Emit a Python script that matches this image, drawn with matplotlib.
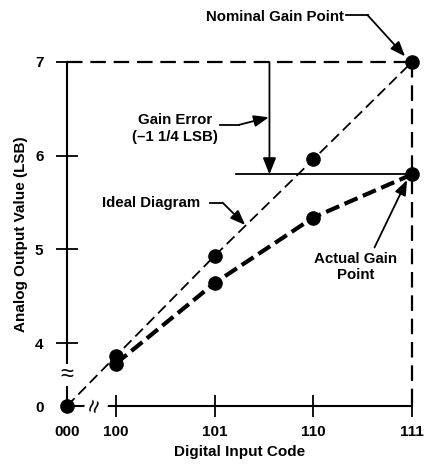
import matplotlib.pyplot as plt
import numpy as np

plt.rcParams['font.family'] = ['Liberation Sans', 'DejaVu Sans']
plt.rcParams['font.weight'] = 'bold'

# digital input codes and where they sit on the (broken) x axis
codes = ['000', '100', '101', '110', '111']
code_pos = [3.505, 4, 5, 6, 7]

# output values in LSB (axis broken between 0 and 4)
y_ticks = [0, 4, 5, 6, 7]
y_zero_pos = 3.328

ideal = [0, 3.86, 4.93, 5.96, 7.0]
actual = [0, 3.78, 4.64, 5.34, 5.80]


def ypos(v):
    return v if v >= 3 else y_zero_pos


fig = plt.figure(figsize=(4.25, 4.66), dpi=100)
ax = fig.add_axes([67 / 425, 60 / 466, 345 / 425, 344 / 466])
ax.set_xlim(code_pos[0], code_pos[-1])
ax.set_ylim(y_zero_pos, 7)

for s in ['top', 'right']:
    ax.spines[s].set_visible(False)
for s in ['left', 'bottom']:
    ax.spines[s].set_linewidth(1.5)

ax.set_xticks(code_pos)
ax.set_xticklabels(codes, fontsize=11, fontweight='bold')
ax.set_yticks([ypos(v) for v in y_ticks])
ax.set_yticklabels([str(v) for v in y_ticks], fontsize=11, fontweight='bold')
ax.tick_params(direction='inout', length=16, width=1.3)
ax.tick_params(axis='x', pad=6)
ax.tick_params(axis='y', pad=9)
ax.xaxis.get_major_ticks()[0].tick1line.set_visible(False)
ax.yaxis.get_major_ticks()[0].tick1line.set_visible(False)

ax.set_xlabel('Digital Input Code', fontsize=11, fontweight='bold', labelpad=4)
ax.set_ylabel('Analog Output Value (LSB)', fontsize=11, fontweight='bold', labelpad=5)

# nominal frame lines
ax.plot([code_pos[0], code_pos[-1]], [7, 7], color='black', lw=1.6,
        dashes=(7, 3.5), clip_on=False)
ax.plot([code_pos[-1], code_pos[-1]], [7, y_zero_pos], color='black', lw=1.6,
        dashes=(7, 3.5), clip_on=False)

ideal_y = [ypos(v) for v in ideal]
actual_y = [ypos(v) for v in actual]

# ideal straight line
ax.plot(code_pos, ideal_y, color='black', lw=1.3, dashes=(6, 3), clip_on=False)
# actual gain curve
ax.plot(code_pos[1:], actual_y[1:], color='black', lw=3, dashes=(3.4, 1.4),
        clip_on=False)

ax.plot(code_pos, ideal_y, 'o', color='black', ms=9.5, clip_on=False, zorder=5)
ax.plot(code_pos[1:], actual_y[1:], 'o', color='black', ms=9.5, clip_on=False, zorder=5)

# gain error marker
ax.plot([5.22, 7], [actual[-1], actual[-1]], color='black', lw=1.3)
ax.annotate('', xy=(5.556, actual[-1]), xytext=(5.556, 7),
            arrowprops=dict(arrowstyle='-|>,head_width=0.4,head_length=1.0',
                            color='black', lw=1.3, shrinkA=0, shrinkB=0))

# axis breaks
ax.text(code_pos[0], 3.66, '\u2248', fontsize=17, ha='center', va='center',
        fontweight='normal', bbox=dict(fc='white', ec='none', pad=0.1))
ax.text(3.80, y_zero_pos, '\u2248', fontsize=17, ha='center', va='center',
        rotation=75, fontweight='normal', bbox=dict(fc='white', ec='none', pad=0.1))

arrow = dict(arrowstyle='-|>,head_width=0.35,head_length=0.9', color='black',
             lw=1.3, shrinkA=0, shrinkB=0)

# Nominal gain point
ax.text(5.61, 7.48, 'Nominal Gain Point', fontsize=10.8, ha='center', va='center')
ax.plot([6.33, 6.55], [7.50, 7.50], color='black', lw=1.3, clip_on=False)
ax.annotate('', xy=(6.93, 7.06), xytext=(6.55, 7.50), arrowprops=arrow,
            annotation_clip=False)

# Gain error label
ax.text(4.60, 6.29, 'Gain Error\n(\u20131 1/4 LSB)', fontsize=10.8, ha='center',
        va='center', linespacing=1.2)
ax.plot([5.05, 5.25], [6.33, 6.33], color='black', lw=1.3)
ax.annotate('', xy=(5.55, 6.41), xytext=(5.25, 6.33), arrowprops=arrow)

# Ideal diagram label
ax.text(4.36, 5.49, 'Ideal Diagram', fontsize=10.8, ha='center', va='center')
ax.plot([4.95, 5.08], [5.50, 5.50], color='black', lw=1.3)
ax.annotate('', xy=(5.31, 5.26), xytext=(5.08, 5.50), arrowprops=arrow)

# Actual gain point label
ax.text(6.43, 4.81, 'Actual Gain\nPoint', fontsize=10.8, ha='center', va='center',
        linespacing=1.2)
ax.annotate('', xy=(6.95, 5.74), xytext=(6.62, 5.02), arrowprops=arrow)

fig.savefig('out.png', dpi=100)
